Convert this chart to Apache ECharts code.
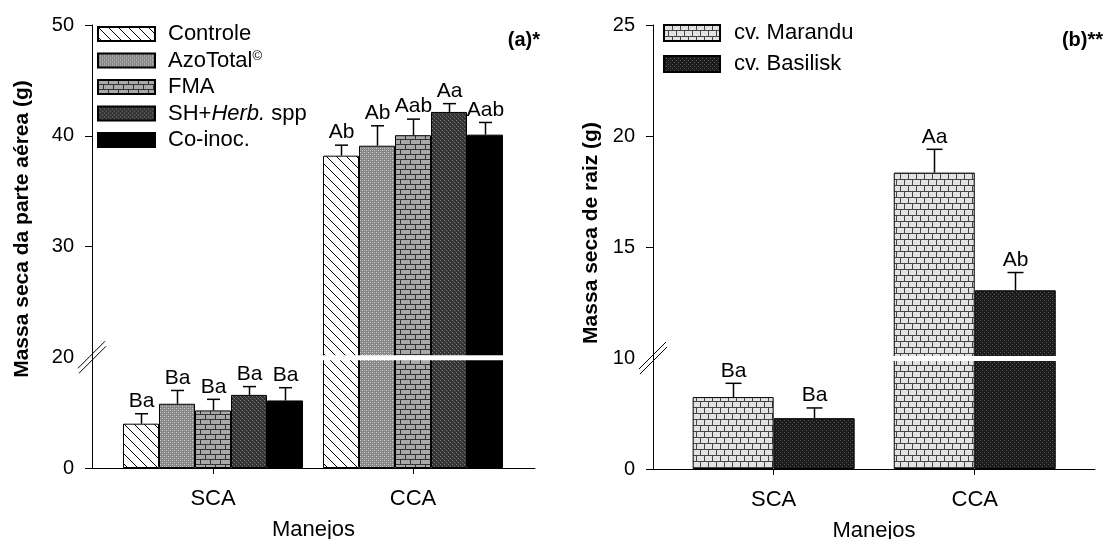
<!DOCTYPE html>
<html><head><meta charset="utf-8">
<script src="https://cdn.jsdelivr.net/npm/echarts@6/dist/echarts.min.js"></script>
<style>html,body{margin:0;padding:0;background:#fff}#c{width:1106px;height:539px}</style>
</head><body><div id="c"></div>
<script>
// ---------- DATA ----------
const categories = ['SCA', 'CCA'];
const treatA = ['Controle', 'AzoTotal©', 'FMA', 'SH+Herb. spp', 'Co-inoc.'];
const meanA_SCA = [4.0, 5.8, 5.2, 6.6, 6.1];
const meanA_CCA = [38.2, 39.1, 40.05, 42.15, 40.1];
const errA_SCA = [0.9, 1.2, 1.0, 0.75, 1.15];
const errA_CCA = [0.95, 1.8, 1.45, 0.75, 1.1];
const lettersA_SCA = ['Ba', 'Ba', 'Ba', 'Ba', 'Ba'];
const lettersA_CCA = ['Ab', 'Ab', 'Aab', 'Aa', 'Aab'];
const cultivarsB = ['cv. Marandu', 'cv. Basilisk'];
const meanB_SCA = [3.24, 2.29];
const meanB_CCA = [18.35, 13.05];
const errB_SCA = [0.62, 0.46];
const errB_CCA = [1.05, 0.8];
const lettersB_SCA = ['Ba', 'Ba'];
const lettersB_CCA = ['Aa', 'Ab'];
const yTicksA = [0, 20, 30, 40, 50];
const yTicksB = [0, 10, 15, 20, 25];
const breakA = [10, 20];
const breakB = [5, 10];

// ---------- helpers ----------
const FONT = '"Liberation Sans", Arial, sans-serif';
function makeDisp(brk) {
  return v => v <= brk[0] ? v : (v >= brk[1] ? v - (brk[1] - brk[0]) : brk[0]);
}
const dispA = makeDisp(breakA), dispB = makeDisp(breakB);

function tile(w, h, draw) {
  const c = document.createElement('canvas'); c.width = w; c.height = h;
  const g = c.getContext('2d'); draw(g, w, h);
  return { image: c, repeat: 'repeat' };
}
function px(g, x, y, col) { g.fillStyle = col; g.fillRect(x, y, 1, 1); }
const patHatch = tile(10, 10, (g, w, h) => {
  g.fillStyle = '#fff'; g.fillRect(0, 0, w, h);
  g.strokeStyle = '#000'; g.lineWidth = 1;
  g.beginPath(); g.moveTo(-1, -1); g.lineTo(w + 1, h + 1);
  g.moveTo(-1 - w, -1); g.lineTo(1, h + 1);
  g.moveTo(w - 1, -1); g.lineTo(2 * w + 1, h + 1); g.stroke();
});
const patDotsGrey = tile(4, 4, (g, w, h) => {
  g.fillStyle = '#858585'; g.fillRect(0, 0, w, h);
  px(g, 0, 0, '#d8d8d8'); px(g, 2, 2, '#d8d8d8'); px(g, 2, 0, '#a8a8a8'); px(g, 0, 2, '#a8a8a8');
});
function brick(bw, rh, brickCol, mortar) {
  return tile(bw, rh * 2, (g, w, h) => {
    g.fillStyle = brickCol; g.fillRect(0, 0, w, h);
    g.fillStyle = mortar;
    g.fillRect(0, rh - 1, w, 1); g.fillRect(0, 2 * rh - 1, w, 1);
    g.fillRect(0, 0, 1, rh - 1); g.fillRect(Math.floor(w / 2), rh, 1, rh - 1);
  });
}
const patBrickGrey = brick(10, 5, '#a9a9a9', '#333');
const patDotsDark = tile(4, 4, (g, w, h) => {
  g.fillStyle = '#333'; g.fillRect(0, 0, w, h);
  px(g, 0, 0, '#7a7a7a'); px(g, 2, 2, '#7a7a7a'); px(g, 1, 1, '#4a4a4a'); px(g, 3, 3, '#4a4a4a');
});
const patBlack = '#000';
const patBrickLight = brick(8, 6, '#e2e2e2', '#444');
const patDotsBlack = tile(4, 4, (g, w, h) => {
  g.fillStyle = '#1c1c1c'; g.fillRect(0, 0, w, h);
  px(g, 0, 0, '#555'); px(g, 2, 2, '#555');
});
const fillsA = [patHatch, patDotsGrey, patBrickGrey, patDotsDark, patBlack];
const fillsB = [patBrickLight, patDotsBlack];

const BW_A = 36, BW_B = 81;
const XMIN_A = -0.605, XMAX_A = 1.61;
const XMIN_B = -0.6, XMAX_B = 1.598;

function errRender(n, bw, capHalf, labels) {
  return function (params, api) {
    const x = api.value(0), k = api.value(3);
    const off = (k - (n - 1) / 2) * bw;
    const p1 = api.coord([x, api.value(1)]);
    const p2 = api.coord([x, api.value(2)]);
    const cx = Math.round(p1[0] + off) + 0.5;
    return { type: 'group', children: [
      { type: 'line', shape: { x1: cx, y1: p1[1], x2: cx, y2: p2[1] }, style: { stroke: '#000', lineWidth: 1.5 } },
      { type: 'line', shape: { x1: cx - capHalf, y1: p2[1], x2: cx + capHalf, y2: p2[1] }, style: { stroke: '#000', lineWidth: 1.5 } },
      { type: 'text', style: { text: labels[params.dataIndex], x: cx, y: p2[1] - 2,
        textAlign: 'center', textVerticalAlign: 'bottom', align: 'center', verticalAlign: 'bottom',
        font: '21px ' + FONT, fill: '#000', textFill: '#000' } }
    ] };
  };
}
function breakRender(xmin, xmax) {
  return function (params, api) {
    const yb = api.value(1);
    const a = api.coord([xmin, yb]);
    const l = api.coord([-0.5, yb]);
    const r = api.coord([1.5, yb]);
    const ax = a[0], ay = a[1];
    return { type: 'group', children: [
      { type: 'rect', shape: { x: l[0], y: ay - 2, width: r[0] - l[0], height: 5 }, style: { fill: '#fff' } },
      { type: 'line', shape: { x1: ax - 14, y1: ay + 11, x2: ax + 13, y2: ay - 16 }, style: { stroke: '#000', lineWidth: 1 } },
      { type: 'line', shape: { x1: ax - 13, y1: ay + 16, x2: ax + 14, y2: ay - 11 }, style: { stroke: '#000', lineWidth: 1 } }
    ] };
  };
}

// ---------- series ----------
const series = [];
treatA.forEach((name, i) => {
  series.push({ name, type: 'bar', xAxisIndex: 0, yAxisIndex: 0, barWidth: BW_A, barGap: '0%',
    data: [[0, dispA(meanA_SCA[i])], [1, dispA(meanA_CCA[i])]],
    itemStyle: { color: fillsA[i], borderColor: '#000', borderWidth: 1 }, emphasis: { disabled: true } });
});
cultivarsB.forEach((name, i) => {
  series.push({ name, type: 'bar', xAxisIndex: 1, yAxisIndex: 1, barWidth: BW_B, barGap: '0%',
    data: [[0, dispB(meanB_SCA[i])], [1, dispB(meanB_CCA[i])]],
    itemStyle: { color: fillsB[i], borderColor: '#000', borderWidth: 1 }, emphasis: { disabled: true } });
});
const errDataA = [], labA = [];
treatA.forEach((n, i) => {
  errDataA.push([0, dispA(meanA_SCA[i]), dispA(meanA_SCA[i] + errA_SCA[i]), i]); labA.push(lettersA_SCA[i]);
  errDataA.push([1, dispA(meanA_CCA[i]), dispA(meanA_CCA[i] + errA_CCA[i]), i]); labA.push(lettersA_CCA[i]);
});
const errDataB = [], labB = [];
cultivarsB.forEach((n, i) => {
  errDataB.push([0, dispB(meanB_SCA[i]), dispB(meanB_SCA[i] + errB_SCA[i]), i]); labB.push(lettersB_SCA[i]);
  errDataB.push([1, dispB(meanB_CCA[i]), dispB(meanB_CCA[i] + errB_CCA[i]), i]); labB.push(lettersB_CCA[i]);
});
series.push({ type: 'custom', xAxisIndex: 0, yAxisIndex: 0, z: 10, clip: false, silent: true,
  encode: { x: 0, y: [1, 2] }, renderItem: errRender(treatA.length, BW_A, 6.5, labA), data: errDataA });
series.push({ type: 'custom', xAxisIndex: 1, yAxisIndex: 1, z: 10, clip: false, silent: true,
  encode: { x: 0, y: [1, 2] }, renderItem: errRender(cultivarsB.length, BW_B, 8, labB), data: errDataB });
series.push({ type: 'custom', xAxisIndex: 0, yAxisIndex: 0, z: 9, clip: false, silent: true,
  encode: { x: 0, y: 1 }, renderItem: breakRender(XMIN_A, XMAX_A), data: [[0, dispA(breakA[0])]] });
series.push({ type: 'custom', xAxisIndex: 1, yAxisIndex: 1, z: 9, clip: false, silent: true,
  encode: { x: 0, y: 1 }, renderItem: breakRender(XMIN_B, XMAX_B), data: [[0, dispB(breakB[0])]] });

function yAxisCfg(gi, ticks, brk, disp) {
  const pos = ticks.map(disp);
  return { gridIndex: gi, type: 'value', min: 0, max: disp(ticks[ticks.length - 1]),
    axisLine: { show: true, onZero: false, lineStyle: { color: '#000', width: 1 } },
    axisTick: { show: true, length: 7, customValues: ticks.filter(v => v !== brk[1]).map(disp), lineStyle: { color: '#000', width: 1 } },
    axisLabel: { customValues: pos, margin: 18, color: '#000', fontSize: 20, fontFamily: FONT,
      formatter: v => { const k = pos.findIndex(p => Math.abs(p - v) < 1e-6); return k >= 0 ? String(ticks[k]) : ''; } },
    splitLine: { show: false } };
}
function xAxisCfg(gi, xmin, xmax) {
  return { gridIndex: gi, type: 'value', min: xmin, max: xmax,
    axisLine: { show: true, onZero: false, lineStyle: { color: '#000', width: 1 } },
    axisTick: { show: true, length: 6, customValues: [0, 1], lineStyle: { color: '#000', width: 1 } },
    axisLabel: { customValues: [0, 1], margin: 20, color: '#000', fontSize: 22, fontFamily: FONT,
      formatter: v => categories[Math.round(v)] || '' },
    splitLine: { show: false },
    name: 'Manejos', nameLocation: 'middle', nameGap: 51,
    nameTextStyle: { color: '#000', fontSize: 22, fontFamily: FONT } };
}

const legendText = { color: '#000', fontSize: 22, fontFamily: FONT, lineHeight: 22,
  rich: { sup: { fontSize: 13, fontFamily: FONT, color: '#000', lineHeight: 22, verticalAlign: 'top', padding: [0, 0, 9, 0] },
          it: { fontSize: 22, fontFamily: FONT, color: '#000', fontStyle: 'italic', lineHeight: 22 } } };

const option = {
  animation: false,
  backgroundColor: '#fff',
  grid: [
    { left: 92, top: 25, width: 443, height: 443, containLabel: false, outerBoundsMode: 'none' },
    { left: 653, top: 25, width: 442, height: 444, containLabel: false, outerBoundsMode: 'none' }
  ],
  xAxis: [xAxisCfg(0, XMIN_A, XMAX_A), xAxisCfg(1, XMIN_B, XMAX_B)],
  yAxis: [yAxisCfg(0, yTicksA, breakA, dispA), yAxisCfg(1, yTicksB, breakB, dispB)],
  legend: [
    { data: treatA, orient: 'vertical', left: 97, top: 23, itemWidth: 57, itemHeight: 14, itemGap: 4.5,
      icon: 'rect', selectedMode: false, padding: 0,
      textStyle: Object.assign({ padding: [0, 0, 0, 8] }, legendText),
      formatter: n => n === 'AzoTotal©' ? 'AzoTotal{sup|©}' : (n === 'SH+Herb. spp' ? 'SH+{it|Herb.} spp' : n) },
    { data: cultivarsB, orient: 'vertical', left: 663, top: 22, itemWidth: 56, itemHeight: 16, itemGap: 9,
      icon: 'rect', selectedMode: false, padding: 0,
      textStyle: Object.assign({ padding: [0, 0, 0, 9] }, legendText) }
  ],
  graphic: [
    { type: 'text', x: 22, y: 229, rotation: Math.PI / 2,
      style: { text: 'Massa seca da parte aérea (g)', font: 'bold 21px ' + FONT, fill: '#000', textFill: '#000',
        textAlign: 'center', textVerticalAlign: 'middle', align: 'center', verticalAlign: 'middle' } },
    { type: 'text', x: 591, y: 233, rotation: Math.PI / 2,
      style: { text: 'Massa seca de raiz (g)', font: 'bold 21px ' + FONT, fill: '#000', textFill: '#000',
        textAlign: 'center', textVerticalAlign: 'middle', align: 'center', verticalAlign: 'middle' } },
    { type: 'text', x: 540, y: 40,
      style: { text: '(a)*', font: 'bold 20px ' + FONT, fill: '#000', textFill: '#000',
        textAlign: 'right', textVerticalAlign: 'middle', align: 'right', verticalAlign: 'middle' } },
    { type: 'text', x: 1103, y: 40,
      style: { text: '(b)**', font: 'bold 20px ' + FONT, fill: '#000', textFill: '#000',
        textAlign: 'right', textVerticalAlign: 'middle', align: 'right', verticalAlign: 'middle' } }
  ],
  series
};
const chart = echarts.init(document.getElementById('c'), null, { renderer: 'canvas' });
chart.setOption(option);
</script>
</body></html>
